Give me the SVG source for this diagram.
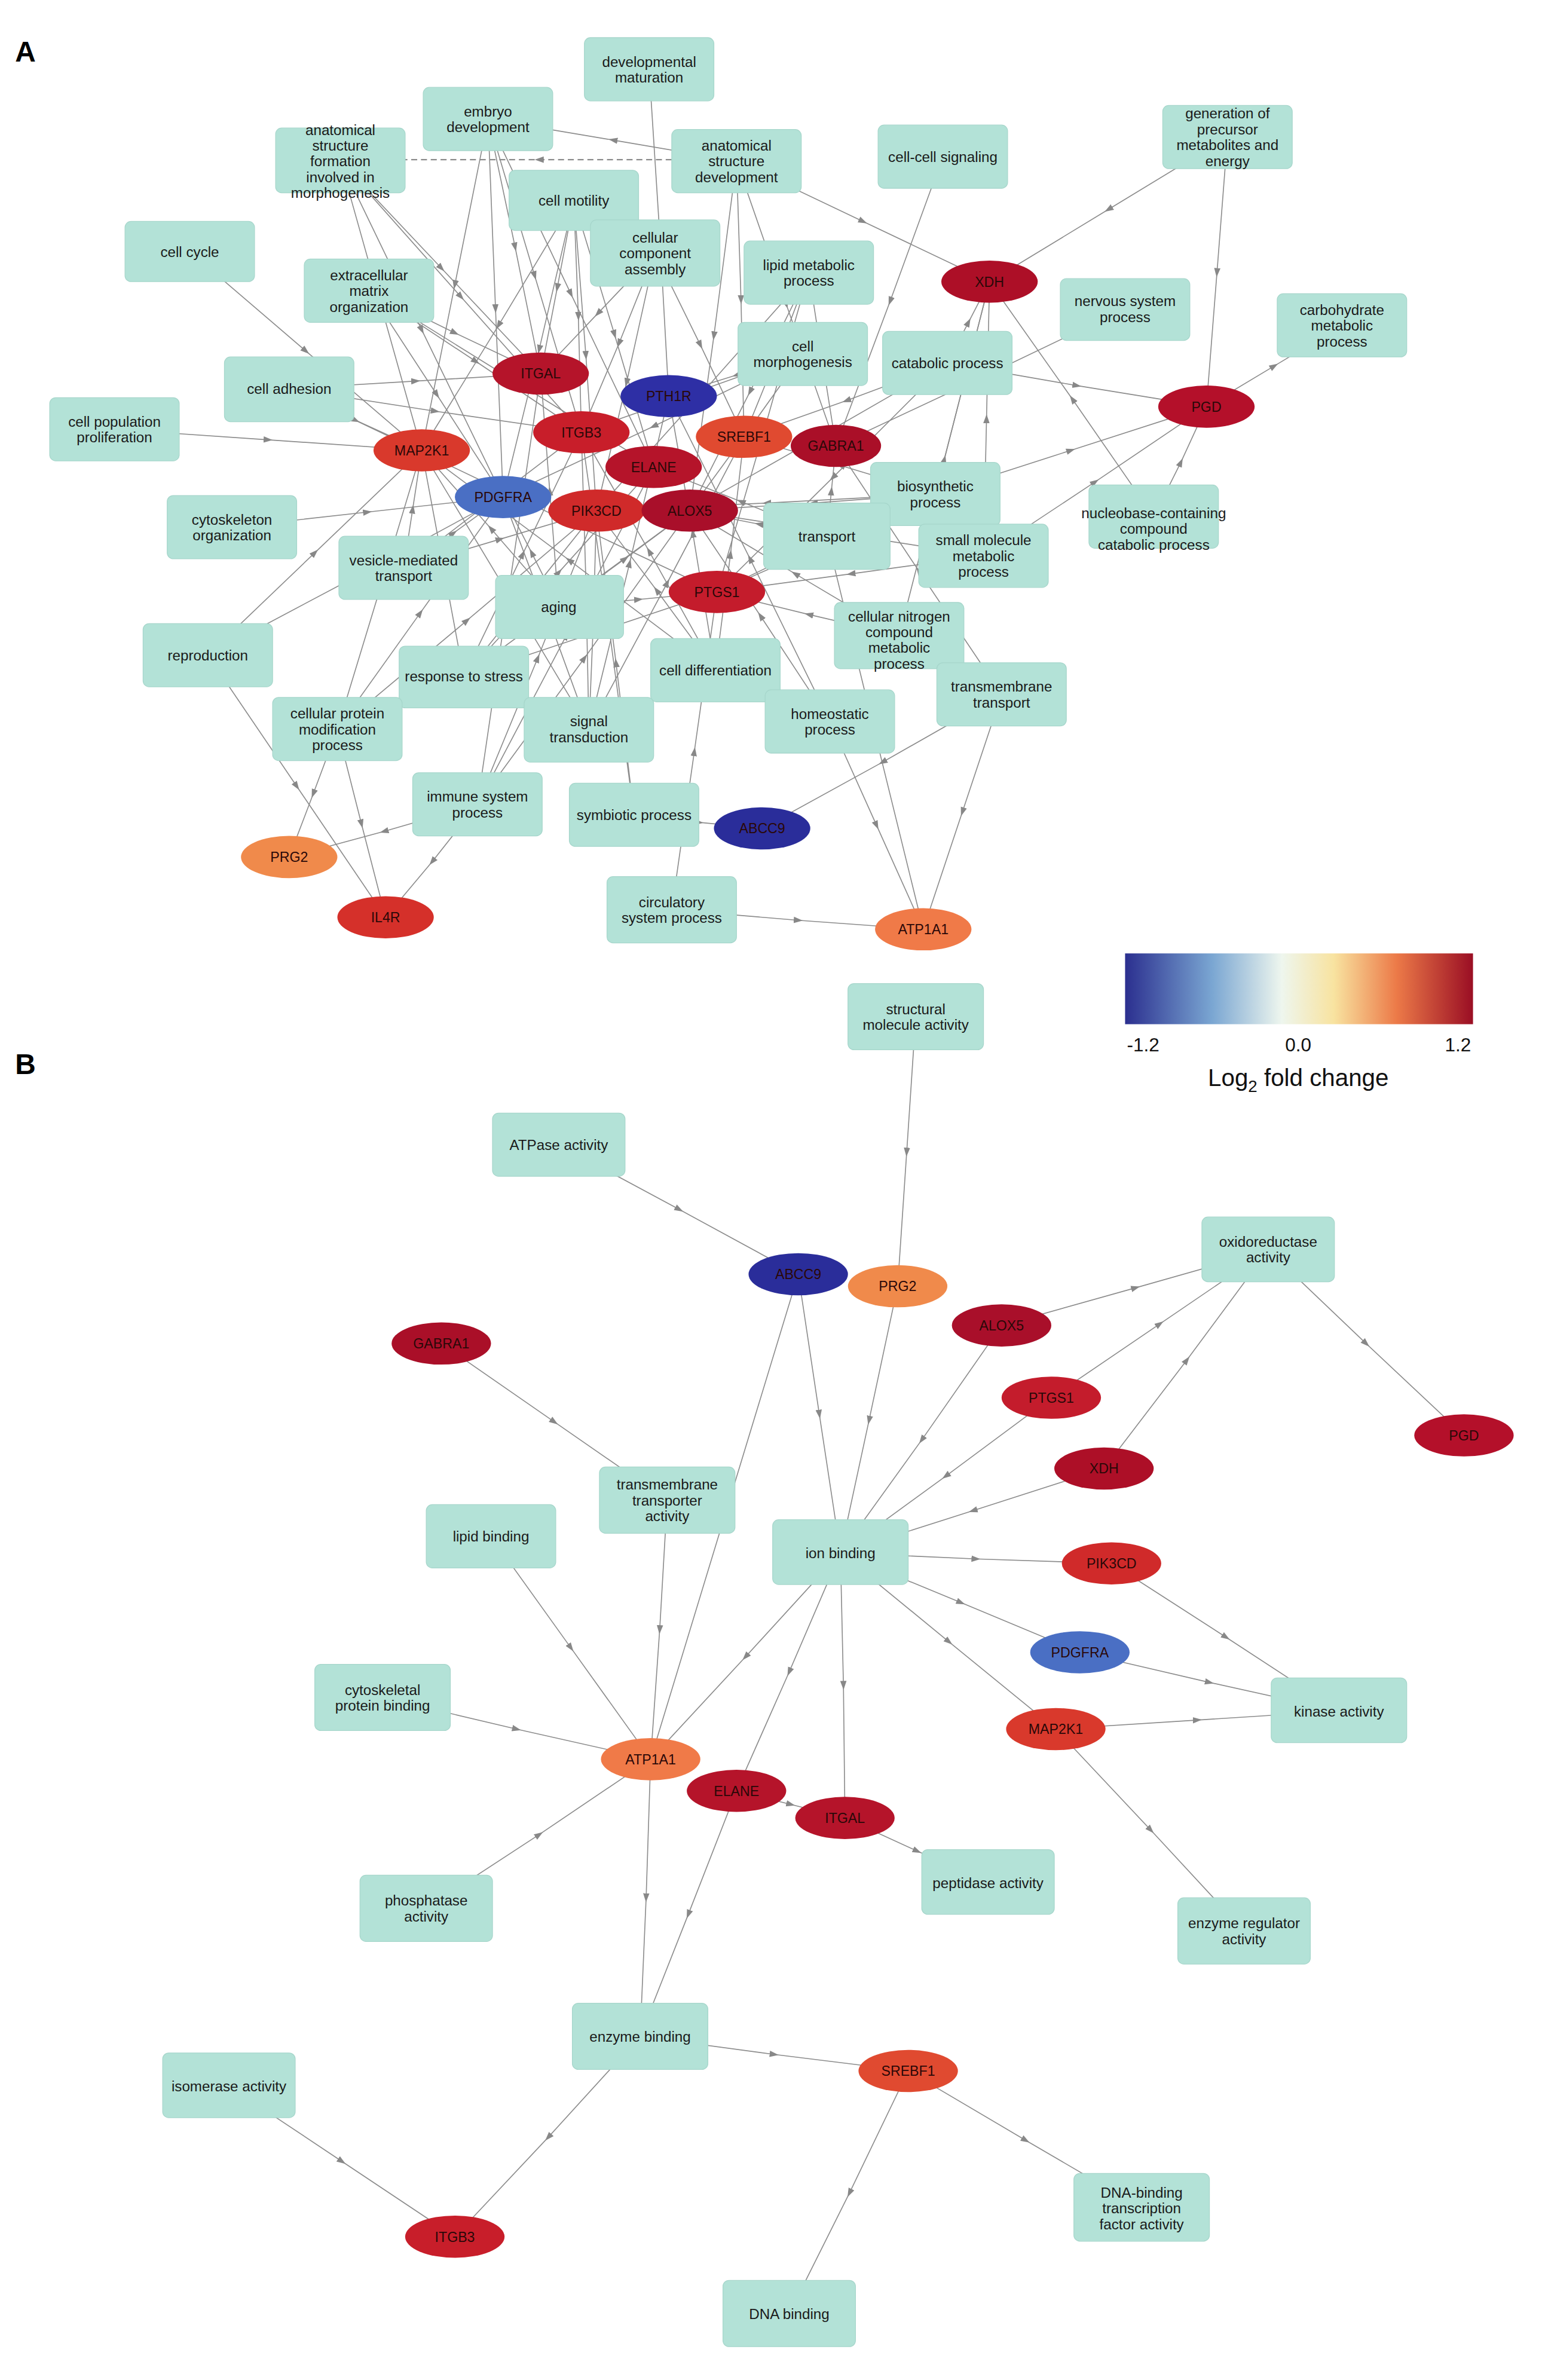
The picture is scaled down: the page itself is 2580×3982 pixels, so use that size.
<svg xmlns="http://www.w3.org/2000/svg" width="2580" height="3982" viewBox="0 0 2580 3982">
<defs>
<marker id="ah" viewBox="0 0 10 10" refX="5" refY="5" markerWidth="6" markerHeight="6" orient="auto" markerUnits="userSpaceOnUse"><path d="M0 1.5 L10 5 L0 8.5 z" fill="#888"/></marker>
<linearGradient id="lg" x1="0" x2="1" y1="0" y2="0">
<stop offset="0" stop-color="#2b2f8f"/><stop offset="0.25" stop-color="#7aa6d2"/><stop offset="0.45" stop-color="#eef6ee"/><stop offset="0.6" stop-color="#f8e3a0"/><stop offset="0.78" stop-color="#ec7a48"/><stop offset="1" stop-color="#9a0e24"/>
</linearGradient>
<style>
.b{fill:#b3e2d7;stroke:#a6d6cb;stroke-width:0.5}
.t{font-family:"Liberation Sans",Arial,sans-serif;font-size:9.6px;fill:#1a1a1a;text-anchor:middle}
.g{font-family:"Liberation Sans",Arial,sans-serif;font-size:9.2px;fill:#2a0808;text-anchor:middle}
.e path{fill:none;stroke:#8c8c8c;stroke-width:0.65;marker-mid:url(#ah)}
.lab{font-family:"Liberation Sans",Arial,sans-serif;font-size:19px;font-weight:bold;fill:#000}
.lg{font-family:"Liberation Sans",Arial,sans-serif;fill:#111;text-anchor:middle}
</style>
</defs>
<rect width="2580" height="3982" fill="#fff"/>
<g transform="scale(2.52)">
<text class="lab" x="10" y="41">A</text>
<text class="lab" x="10" y="713">B</text>
<g id="connectors" class="e">
<path d="M126 167L203 233L280 299"/><path d="M76 285L178 292L280 299"/><path d="M154 350L244 340L334 330"/>
<path d="M192 258L276 253L359 248"/><path d="M192 258L289 273L386 287"/><path d="M192 258L236 279L280 299"/><path d="M192 258L334 326L476 393"/>
<path d="M324 79L342 164L359 248"/><path d="M324 79L302 189L280 299"/><path d="M324 79L329 205L334 330"/><path d="M324 79L379 195L434 310"/><path d="M324 79L355 183L386 287"/>
<path d="M226 107L293 178L359 248"/><path d="M226 107L253 203L280 299"/><path d="M226 107L280 219L334 330"/><path d="M226 107L306 197L386 287"/>
<path d="M446 106L358 106L269 106" stroke-dasharray="4 2.5" style="stroke-width:0.9"/>
<path d="M489 107L407 93L324 79"/><path d="M489 107L573 147L657 187"/><path d="M489 107L492 199L494 290"/><path d="M489 107L522 202L555 296"/><path d="M489 107L474 223L458 339"/>
<path d="M431 46L438 155L444 263"/>
<path d="M381 133L370 191L359 248"/><path d="M381 133L384 210L386 287"/><path d="M381 133L358 232L334 330"/><path d="M381 133L389 236L396 339"/><path d="M381 133L331 216L280 299"/><path d="M381 133L408 222L434 310"/>
<path d="M435 168L411 228L386 287"/><path d="M435 168L416 254L396 339"/><path d="M435 168L397 208L359 248"/><path d="M435 168L465 229L494 290"/>
<path d="M537 181L516 236L494 290"/><path d="M537 181L498 260L458 339"/><path d="M537 181L507 287L476 393"/><path d="M537 181L546 239L555 296"/><path d="M537 181L467 260L396 339"/>
<path d="M626 104L591 200L555 296"/>
<path d="M245 193L302 221L359 248"/><path d="M245 193L316 240L386 287"/><path d="M245 193L340 252L434 310"/><path d="M245 193L290 262L334 330"/>
<path d="M533 235L460 261L386 287"/><path d="M533 235L489 249L444 263"/><path d="M533 235L434 283L334 330"/><path d="M533 235L496 287L458 339"/>
<path d="M629 241L643 214L657 187"/><path d="M629 241L715 256L801 270"/><path d="M629 241L544 290L458 339"/><path d="M629 241L553 317L476 393"/><path d="M629 241L562 266L494 290"/>
<path d="M747 205L651 251L555 296"/><path d="M801 270L846 243L891 216"/><path d="M815 91L736 139L657 187"/><path d="M815 91L808 181L801 270"/>
<path d="M621 328L711 299L801 270"/><path d="M621 328L540 334L458 339"/><path d="M621 328L549 361L476 393"/><path d="M621 328L558 309L494 290"/><path d="M621 328L639 258L657 187"/><path d="M621 328L509 334L396 339"/>
<path d="M549 356L552 326L555 296"/><path d="M549 356L581 487L613 617"/><path d="M549 356L513 375L476 393"/><path d="M549 356L492 333L434 310"/><path d="M549 356L504 348L458 339"/>
<path d="M766 343L712 265L657 187"/><path d="M766 343L784 307L801 270"/>
<path d="M653 369L727 320L801 270"/><path d="M653 369L556 354L458 339"/><path d="M653 369L565 381L476 393"/><path d="M653 369L655 278L657 187"/>
<path d="M268 377L301 354L334 330"/><path d="M268 377L327 332L386 287"/><path d="M268 377L274 338L280 299"/><path d="M268 377L332 358L396 339"/>
<path d="M371 403L365 326L359 248"/><path d="M371 403L353 367L334 330"/><path d="M371 403L415 371L458 339"/><path d="M371 403L424 398L476 393"/><path d="M371 403L326 351L280 299"/>
<path d="M138 435L209 367L280 299"/><path d="M138 435L236 383L334 330"/><path d="M138 435L197 522L256 609"/>
<path d="M597 422L627 305L657 187"/><path d="M597 422L537 408L476 393"/><path d="M597 422L528 381L458 339"/>
<path d="M475 445L378 372L280 299"/><path d="M475 445L460 354L444 263"/><path d="M475 445L431 366L386 287"/><path d="M475 445L436 392L396 339"/><path d="M475 445L485 368L494 290"/>
<path d="M308 449L294 374L280 299"/><path d="M308 449L371 380L434 310"/><path d="M308 449L383 394L458 339"/><path d="M308 449L392 421L476 393"/><path d="M308 449L352 394L396 339"/><path d="M308 449L347 368L386 287"/>
<path d="M665 461L586 506L506 550"/><path d="M665 461L639 539L613 617"/><path d="M665 461L610 379L555 296"/>
<path d="M551 479L582 548L613 617"/><path d="M551 479L498 371L444 263"/><path d="M551 479L505 409L458 339"/>
<path d="M224 484L252 392L280 299"/><path d="M224 484L279 407L334 330"/><path d="M224 484L208 527L192 569"/><path d="M224 484L240 547L256 609"/><path d="M224 484L310 412L396 339"/>
<path d="M391 484L336 392L280 299"/><path d="M391 484L363 407L334 330"/><path d="M391 484L394 412L396 339"/><path d="M391 484L389 386L386 287"/><path d="M391 484L418 374L444 263"/><path d="M391 484L443 387L494 290"/>
<path d="M317 534L255 552L192 569"/><path d="M317 534L287 572L256 609"/><path d="M317 534L376 422L434 310"/><path d="M317 534L338 391L359 248"/><path d="M317 534L357 437L396 339"/><path d="M317 534L388 437L458 339"/>
<path d="M421 541L464 546L506 550"/><path d="M421 541L409 440L396 339"/><path d="M421 541L404 414L386 287"/>
<path d="M446 604L530 611L613 617"/><path d="M446 604L461 499L476 393"/>
<!-- B -->
<path d="M608 675L602 765L596 854"/><path d="M371 760L451 803L530 846"/>
<path d="M665 880L754 855L842 830"/><path d="M698 928L770 879L842 830"/><path d="M733 975L788 903L842 830"/><path d="M842 830L907 892L972 953"/>
<path d="M293 892L368 944L443 996"/><path d="M443 996L438 1082L432 1168"/><path d="M530 846L481 1007L432 1168"/><path d="M530 846L544 939L558 1031"/>
<path d="M596 854L577 943L558 1031"/><path d="M665 880L612 956L558 1031"/><path d="M698 928L628 980L558 1031"/><path d="M733 975L646 1003L558 1031"/>
<path d="M558 1031L648 1035L738 1038"/><path d="M558 1031L638 1064L717 1097"/><path d="M558 1031L630 1090L701 1148"/><path d="M558 1031L495 1100L432 1168"/><path d="M558 1031L524 1110L489 1189"/><path d="M558 1031L560 1119L561 1207"/>
<path d="M738 1038L814 1087L889 1136"/><path d="M717 1097L803 1117L889 1136"/><path d="M701 1148L795 1142L889 1136"/>
<path d="M326 1020L379 1094L432 1168"/><path d="M254 1127L343 1148L432 1168"/><path d="M283 1267L358 1218L432 1168"/>
<path d="M432 1168L429 1260L425 1352"/><path d="M489 1189L457 1271L425 1352"/><path d="M561 1207L609 1229L656 1250"/><path d="M489 1189L525 1198L561 1207"/>
<path d="M701 1148L764 1215L826 1282"/><path d="M425 1352L514 1364L603 1375"/><path d="M425 1352L364 1419L302 1485"/><path d="M152 1385L227 1435L302 1485"/>
<path d="M603 1375L681 1421L758 1466"/><path d="M603 1375L564 1456L524 1536"/>
</g>
<!-- Panel A boxes -->
<g id="a_devmat"><rect class="b" x="388" y="25" width="86" height="42" rx="4"/><text class="t" x="431" y="44.25">developmental<tspan x="431" dy="10.5">maturation</tspan></text></g>
<g id="a_embryo"><rect class="b" x="281" y="58" width="86" height="42" rx="4"/><text class="t" x="324" y="77.25">embryo<tspan x="324" dy="10.5">development</tspan></text></g>
<g id="a_asfm"><rect class="b" x="183" y="85" width="86" height="43" rx="4"/><text class="t" x="226" y="89.5">anatomical<tspan x="226" dy="10.5">structure</tspan><tspan x="226" dy="10.5">formation</tspan><tspan x="226" dy="10.5">involved in</tspan><tspan x="226" dy="10.5">morphogenesis</tspan></text></g>
<g id="a_asdev"><rect class="b" x="446" y="86" width="86" height="42" rx="4"/><text class="t" x="489" y="100">anatomical<tspan x="489" dy="10.5">structure</tspan><tspan x="489" dy="10.5">development</tspan></text></g>
<g id="a_cellmot"><rect class="b" x="338" y="113" width="86" height="40" rx="4"/><text class="t" x="381" y="136.5">cell motility</text></g>
<g id="a_cca"><rect class="b" x="392" y="146" width="86" height="44" rx="4"/><text class="t" x="435" y="161">cellular<tspan x="435" dy="10.5">component</tspan><tspan x="435" dy="10.5">assembly</tspan></text></g>
<g id="a_lipid"><rect class="b" x="494" y="160" width="86" height="42" rx="4"/><text class="t" x="537" y="179.25">lipid metabolic<tspan x="537" dy="10.5">process</tspan></text></g>
<g id="a_ccsig"><rect class="b" x="583" y="83" width="86" height="42" rx="4"/><text class="t" x="626" y="107.5">cell-cell signaling</text></g>
<g id="a_genprec"><rect class="b" x="772" y="70" width="86" height="42" rx="4"/><text class="t" x="815" y="78.75">generation of<tspan x="815" dy="10.5">precursor</tspan><tspan x="815" dy="10.5">metabolites and</tspan><tspan x="815" dy="10.5">energy</tspan></text></g>
<g id="a_cellcycle"><rect class="b" x="83" y="147" width="86" height="40" rx="4"/><text class="t" x="126" y="170.5">cell cycle</text></g>
<g id="a_ecm"><rect class="b" x="202" y="172" width="86" height="42" rx="4"/><text class="t" x="245" y="186">extracellular<tspan x="245" dy="10.5">matrix</tspan><tspan x="245" dy="10.5">organization</tspan></text></g>
<g id="a_nervous"><rect class="b" x="704" y="185" width="86" height="41" rx="4"/><text class="t" x="747" y="203.25">nervous system<tspan x="747" dy="10.5">process</tspan></text></g>
<g id="a_carbo"><rect class="b" x="848" y="195" width="86" height="42" rx="4"/><text class="t" x="891" y="209">carbohydrate<tspan x="891" dy="10.5">metabolic</tspan><tspan x="891" dy="10.5">process</tspan></text></g>
<g id="a_cellmorph"><rect class="b" x="490" y="214" width="86" height="42" rx="4"/><text class="t" x="533" y="233.25">cell<tspan x="533" dy="10.5">morphogenesis</tspan></text></g>
<g id="a_catab"><rect class="b" x="586" y="220" width="86" height="42" rx="4"/><text class="t" x="629" y="244.5">catabolic process</text></g>
<g id="a_celladh"><rect class="b" x="149" y="237" width="86" height="43" rx="4"/><text class="t" x="192" y="261.5">cell adhesion</text></g>
<g id="a_cellpop"><rect class="b" x="33" y="264" width="86" height="42" rx="4"/><text class="t" x="76" y="283.25">cell population<tspan x="76" dy="10.5">proliferation</tspan></text></g>
<g id="a_cytoskel"><rect class="b" x="111" y="329" width="86" height="42" rx="4"/><text class="t" x="154" y="348.25">cytoskeleton<tspan x="154" dy="10.5">organization</tspan></text></g>
<g id="a_biosyn"><rect class="b" x="578" y="307" width="86" height="42" rx="4"/><text class="t" x="621" y="326.25">biosynthetic<tspan x="621" dy="10.5">process</tspan></text></g>
<g id="a_transport"><rect class="b" x="507" y="334" width="84" height="44" rx="4"/><text class="t" x="549" y="359.5">transport</text></g>
<g id="a_nucleo"><rect class="b" x="723" y="322" width="86" height="42" rx="4"/><text class="t" x="766" y="344">nucleobase-containing<tspan x="766" dy="10.5">compound</tspan><tspan x="766" dy="10.5">catabolic process</tspan></text></g>
<g id="a_smallmol"><rect class="b" x="610" y="348" width="86" height="42" rx="4"/><text class="t" x="653" y="362">small molecule<tspan x="653" dy="10.5">metabolic</tspan><tspan x="653" dy="10.5">process</tspan></text></g>
<g id="a_vesicle"><rect class="b" x="225" y="356" width="86" height="42" rx="4"/><text class="t" x="268" y="375.25">vesicle-mediated<tspan x="268" dy="10.5">transport</tspan></text></g>
<g id="a_aging"><rect class="b" x="329" y="382" width="85" height="42" rx="4"/><text class="t" x="371" y="406.5">aging</text></g>
<g id="a_repro"><rect class="b" x="95" y="414" width="86" height="42" rx="4"/><text class="t" x="138" y="438.5">reproduction</text></g>
<g id="a_cellnitro"><rect class="b" x="554" y="400" width="86" height="44" rx="4"/><text class="t" x="597" y="412.5">cellular nitrogen<tspan x="597" dy="10.5">compound</tspan><tspan x="597" dy="10.5">metabolic</tspan><tspan x="597" dy="10.5">process</tspan></text></g>
<g id="a_celldiff"><rect class="b" x="432" y="424" width="86" height="42" rx="4"/><text class="t" x="475" y="448.5">cell differentiation</text></g>
<g id="a_respstress"><rect class="b" x="265" y="429" width="86" height="41" rx="4"/><text class="t" x="308" y="452.5">response to stress</text></g>
<g id="a_tmtrans"><rect class="b" x="622" y="440" width="86" height="42" rx="4"/><text class="t" x="665" y="459.25">transmembrane<tspan x="665" dy="10.5">transport</tspan></text></g>
<g id="a_homeo"><rect class="b" x="508" y="458" width="86" height="42" rx="4"/><text class="t" x="551" y="477.25">homeostatic<tspan x="551" dy="10.5">process</tspan></text></g>
<g id="a_cpmp"><rect class="b" x="181" y="463" width="86" height="42" rx="4"/><text class="t" x="224" y="477">cellular protein<tspan x="224" dy="10.5">modification</tspan><tspan x="224" dy="10.5">process</tspan></text></g>
<g id="a_sigtrans"><rect class="b" x="348" y="463" width="86" height="43" rx="4"/><text class="t" x="391" y="482.25">signal<tspan x="391" dy="10.5">transduction</tspan></text></g>
<g id="a_immune"><rect class="b" x="274" y="513" width="86" height="42" rx="4"/><text class="t" x="317" y="532.25">immune system<tspan x="317" dy="10.5">process</tspan></text></g>
<g id="a_symb"><rect class="b" x="378" y="520" width="86" height="42" rx="4"/><text class="t" x="421" y="544.5">symbiotic process</text></g>
<g id="a_circ"><rect class="b" x="403" y="582" width="86" height="44" rx="4"/><text class="t" x="446" y="602.25">circulatory<tspan x="446" dy="10.5">system process</tspan></text></g>
<!-- Panel A genes -->
<g id="a_ITGAL"><ellipse cx="359" cy="248" rx="32" ry="14" fill="#b5142a"/><text class="g" x="359" y="251.3">ITGAL</text></g>
<g id="a_PTH1R"><ellipse cx="444" cy="263" rx="32" ry="14" fill="#2e2fa5"/><text class="g" x="444" y="266.3">PTH1R</text></g>
<g id="a_ITGB3"><ellipse cx="386" cy="287" rx="32" ry="14" fill="#c81e2a"/><text class="g" x="386" y="290.3">ITGB3</text></g>
<g id="a_SREBF1"><ellipse cx="494" cy="290" rx="32" ry="14" fill="#e04a30"/><text class="g" x="494" y="293.3">SREBF1</text></g>
<g id="a_GABRA1"><ellipse cx="555" cy="296" rx="30" ry="14" fill="#aa0f28"/><text class="g" x="555" y="299.3">GABRA1</text></g>
<g id="a_MAP2K1"><ellipse cx="280" cy="299" rx="32" ry="14" fill="#d9392c"/><text class="g" x="280" y="302.3">MAP2K1</text></g>
<g id="a_ELANE"><ellipse cx="434" cy="310" rx="32" ry="14" fill="#b5142a"/><text class="g" x="434" y="313.3">ELANE</text></g>
<g id="a_PDGFRA"><ellipse cx="334" cy="330" rx="32" ry="14" fill="#4a6fc4"/><text class="g" x="334" y="333.3">PDGFRA</text></g>
<g id="a_PIK3CD"><ellipse cx="396" cy="339" rx="32" ry="14" fill="#d02a2a"/><text class="g" x="396" y="342.3">PIK3CD</text></g>
<g id="a_ALOX5"><ellipse cx="458" cy="339" rx="32" ry="14" fill="#a90f2a"/><text class="g" x="458" y="342.3">ALOX5</text></g>
<g id="a_PTGS1"><ellipse cx="476" cy="393" rx="32" ry="14" fill="#c41c2c"/><text class="g" x="476" y="396.3">PTGS1</text></g>
<g id="a_XDH"><ellipse cx="657" cy="187" rx="32" ry="14" fill="#ad0f27"/><text class="g" x="657" y="190.3">XDH</text></g>
<g id="a_PGD"><ellipse cx="801" cy="270" rx="32" ry="14" fill="#b4102a"/><text class="g" x="801" y="273.3">PGD</text></g>
<g id="a_ABCC9"><ellipse cx="506" cy="550" rx="32" ry="14" fill="#2a2d9a"/><text class="g" x="506" y="553.3">ABCC9</text></g>
<g id="a_PRG2"><ellipse cx="192" cy="569" rx="32" ry="14" fill="#f08a4b"/><text class="g" x="192" y="572.3">PRG2</text></g>
<g id="a_IL4R"><ellipse cx="256" cy="609" rx="32" ry="14" fill="#d5302a"/><text class="g" x="256" y="612.3">IL4R</text></g>
<g id="a_ATP1A1"><ellipse cx="613" cy="617" rx="32" ry="14" fill="#f07a48"/><text class="g" x="613" y="620.3">ATP1A1</text></g>
<!-- Legend -->
<g id="legend"><rect x="747" y="633" width="231" height="47" fill="url(#lg)"/>
<text class="lg" x="759" y="698" font-size="12.5">-1.2</text><text class="lg" x="862" y="698" font-size="12.5">0.0</text><text class="lg" x="968" y="698" font-size="12.5">1.2</text>
<text class="lg" x="862" y="721" font-size="16">Log<tspan font-size="11" dy="4">2</tspan><tspan dy="-4"> fold change</tspan></text></g>
<!-- Panel B boxes -->
<g id="b_sma"><rect class="b" x="563" y="653" width="90" height="44" rx="4"/><text class="t" x="608" y="673.25">structural<tspan x="608" dy="10.5">molecule activity</tspan></text></g>
<g id="b_atpase"><rect class="b" x="327" y="739" width="88" height="42" rx="4"/><text class="t" x="371" y="763.5">ATPase activity</text></g>
<g id="b_oxido"><rect class="b" x="798" y="808" width="88" height="43" rx="4"/><text class="t" x="842" y="827.75">oxidoreductase<tspan x="842" dy="10.5">activity</tspan></text></g>
<g id="b_tmta"><rect class="b" x="398" y="974" width="90" height="44" rx="4"/><text class="t" x="443" y="989">transmembrane<tspan x="443" dy="10.5">transporter</tspan><tspan x="443" dy="10.5">activity</tspan></text></g>
<g id="b_lipidb"><rect class="b" x="283" y="999" width="86" height="42" rx="4"/><text class="t" x="326" y="1023.5">lipid binding</text></g>
<g id="b_ionb"><rect class="b" x="513" y="1009" width="90" height="43" rx="4"/><text class="t" x="558" y="1034.5">ion binding</text></g>
<g id="b_cytob"><rect class="b" x="209" y="1105" width="90" height="44" rx="4"/><text class="t" x="254" y="1125.25">cytoskeletal<tspan x="254" dy="10.5">protein binding</tspan></text></g>
<g id="b_kinase"><rect class="b" x="844" y="1114" width="90" height="43" rx="4"/><text class="t" x="889" y="1139.5">kinase activity</text></g>
<g id="b_phosph"><rect class="b" x="239" y="1245" width="88" height="44" rx="4"/><text class="t" x="283" y="1265.25">phosphatase<tspan x="283" dy="10.5">activity</tspan></text></g>
<g id="b_pept"><rect class="b" x="612" y="1228" width="88" height="43" rx="4"/><text class="t" x="656" y="1253.5">peptidase activity</text></g>
<g id="b_enzreg"><rect class="b" x="782" y="1260" width="88" height="44" rx="4"/><text class="t" x="826" y="1280.25">enzyme regulator<tspan x="826" dy="10.5">activity</tspan></text></g>
<g id="b_enzb"><rect class="b" x="380" y="1330" width="90" height="44" rx="4"/><text class="t" x="425" y="1355.5">enzyme binding</text></g>
<g id="b_isom"><rect class="b" x="108" y="1363" width="88" height="43" rx="4"/><text class="t" x="152" y="1388.5">isomerase activity</text></g>
<g id="b_dnatf"><rect class="b" x="713" y="1443" width="90" height="45" rx="4"/><text class="t" x="758" y="1459">DNA-binding<tspan x="758" dy="10.5">transcription</tspan><tspan x="758" dy="10.5">factor activity</tspan></text></g>
<g id="b_dnab"><rect class="b" x="480" y="1514" width="88" height="44" rx="4"/><text class="t" x="524" y="1539.5">DNA binding</text></g>
<!-- Panel B genes -->
<g id="b_ABCC9"><ellipse cx="530" cy="846" rx="33" ry="14" fill="#2a2d9a"/><text class="g" x="530" y="849.3">ABCC9</text></g>
<g id="b_PRG2"><ellipse cx="596" cy="854" rx="33" ry="14" fill="#f08a4b"/><text class="g" x="596" y="857.3">PRG2</text></g>
<g id="b_GABRA1"><ellipse cx="293" cy="892" rx="33" ry="14" fill="#aa0f28"/><text class="g" x="293" y="895.3">GABRA1</text></g>
<g id="b_ALOX5"><ellipse cx="665" cy="880" rx="33" ry="14" fill="#a90f2a"/><text class="g" x="665" y="883.3">ALOX5</text></g>
<g id="b_PTGS1"><ellipse cx="698" cy="928" rx="33" ry="14" fill="#c41c2c"/><text class="g" x="698" y="931.3">PTGS1</text></g>
<g id="b_PGD"><ellipse cx="972" cy="953" rx="33" ry="14" fill="#b4102a"/><text class="g" x="972" y="956.3">PGD</text></g>
<g id="b_XDH"><ellipse cx="733" cy="975" rx="33" ry="14" fill="#ad0f27"/><text class="g" x="733" y="978.3">XDH</text></g>
<g id="b_PIK3CD"><ellipse cx="738" cy="1038" rx="33" ry="14" fill="#d02a2a"/><text class="g" x="738" y="1041.3">PIK3CD</text></g>
<g id="b_PDGFRA"><ellipse cx="717" cy="1097" rx="33" ry="14" fill="#4a6fc4"/><text class="g" x="717" y="1100.3">PDGFRA</text></g>
<g id="b_MAP2K1"><ellipse cx="701" cy="1148" rx="33" ry="14" fill="#d9392c"/><text class="g" x="701" y="1151.3">MAP2K1</text></g>
<g id="b_ATP1A1"><ellipse cx="432" cy="1168" rx="33" ry="14" fill="#f07a48"/><text class="g" x="432" y="1171.3">ATP1A1</text></g>
<g id="b_ELANE"><ellipse cx="489" cy="1189" rx="33" ry="14" fill="#b5142a"/><text class="g" x="489" y="1192.3">ELANE</text></g>
<g id="b_ITGAL"><ellipse cx="561" cy="1207" rx="33" ry="14" fill="#b5142a"/><text class="g" x="561" y="1210.3">ITGAL</text></g>
<g id="b_SREBF1"><ellipse cx="603" cy="1375" rx="33" ry="14" fill="#e04a30"/><text class="g" x="603" y="1378.3">SREBF1</text></g>
<g id="b_ITGB3"><ellipse cx="302" cy="1485" rx="33" ry="14" fill="#c81e2a"/><text class="g" x="302" y="1488.3">ITGB3</text></g>
</g>
</svg>
